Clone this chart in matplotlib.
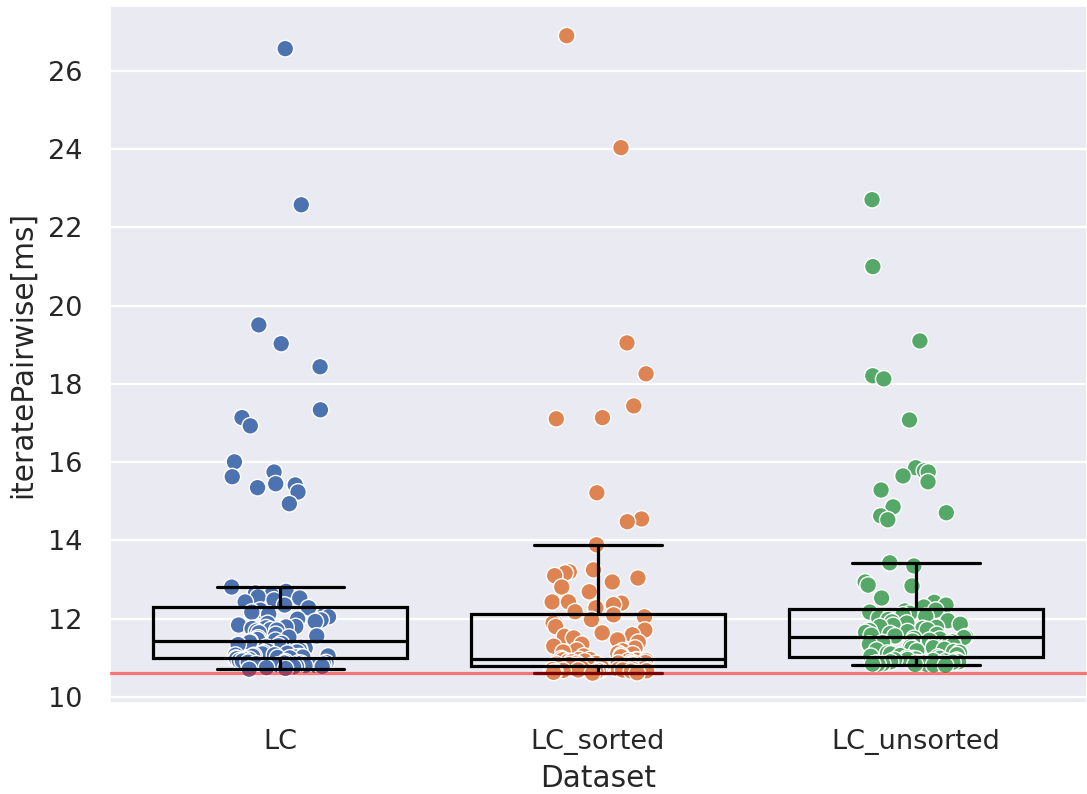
import numpy as np
import pandas as pd
import matplotlib
matplotlib.use("Agg")
import matplotlib.pyplot as plt
import seaborn as sns

# Timing samples (ms) per dataset variant
datasets = ["LC", "LC_sorted", "LC_unsorted"]

lc_times = [
    26.57, 22.58, 19.51, 19.03, 18.44, 17.34, 17.14, 16.93, 16.01, 15.75,
    15.63, 15.45, 15.42, 15.35, 15.24, 14.94,
    12.81, 12.70, 12.66, 12.61, 12.56, 12.53, 12.48, 12.43, 12.35,
    12.28, 12.22, 12.17, 12.12, 12.10, 12.05, 11.99, 11.97, 11.93, 11.88,
    11.84, 11.80, 11.79, 11.77, 11.75, 11.72, 11.71, 11.68, 11.64, 11.60,
    11.56, 11.53, 11.51, 11.47, 11.45,
    11.42, 11.40, 11.37, 11.34, 11.31, 11.28, 11.27, 11.25, 11.22, 11.20,
    11.18, 11.15, 11.13, 11.12, 11.10, 11.08, 11.07, 11.06, 11.05, 11.04,
    11.03, 11.02, 11.02, 11.01, 11.00,
    10.99, 10.98, 10.96, 10.95, 10.93, 10.92, 10.90, 10.89, 10.88, 10.87,
    10.87, 10.86, 10.85, 10.84, 10.83, 10.82, 10.82, 10.81, 10.80, 10.79,
    10.78, 10.77, 10.75, 10.73, 10.71,
]

lc_sorted_times = [
    26.90, 24.04, 19.05, 18.26, 17.44, 17.14, 17.11, 15.22, 14.55, 14.48,
    13.89, 13.25, 13.20, 13.17, 13.10, 13.04, 12.94, 12.81, 12.69, 12.43,
    12.43, 12.40, 12.36, 12.28, 12.18,
    12.10, 12.05, 11.98, 11.92, 11.89, 11.80, 11.71, 11.64, 11.59, 11.55,
    11.51, 11.46, 11.40, 11.35, 11.30, 11.25, 11.20, 11.18, 11.15, 11.12,
    11.10, 11.07, 11.05, 11.03, 10.98,
    10.96, 10.96, 10.95, 10.95, 10.94, 10.93, 10.93, 10.92, 10.91, 10.90,
    10.89, 10.88, 10.87, 10.86, 10.86, 10.85, 10.84, 10.84, 10.83, 10.82,
    10.82, 10.81, 10.80, 10.80, 10.79,
    10.78, 10.77, 10.76, 10.76, 10.75, 10.74, 10.73, 10.73, 10.72, 10.71,
    10.71, 10.70, 10.70, 10.69, 10.69, 10.68, 10.68, 10.67, 10.67, 10.66,
    10.65, 10.64, 10.63, 10.62, 10.61,
]

lc_unsorted_times = [
    22.71, 21.00, 19.10, 18.21, 18.13, 17.08, 15.86, 15.78, 15.75, 15.65,
    15.50, 15.29, 14.86, 14.71, 14.63, 14.53,
    13.43, 13.35, 12.94, 12.86, 12.84, 12.53, 12.42, 12.35, 12.30,
    12.22, 12.20, 12.17, 12.14, 12.10, 12.06, 12.02, 11.98, 11.95, 11.92,
    11.89, 11.86, 11.83, 11.80, 11.78, 11.75, 11.72, 11.70, 11.67, 11.65,
    11.62, 11.60, 11.58, 11.56, 11.54,
    11.52, 11.50, 11.48, 11.45, 11.43, 11.41, 11.39, 11.37, 11.35, 11.32,
    11.30, 11.28, 11.26, 11.24, 11.22, 11.20, 11.18, 11.16, 11.14, 11.12,
    11.10, 11.08, 11.06, 11.04, 11.02,
    11.00, 10.99, 10.98, 10.97, 10.96, 10.95, 10.94, 10.93, 10.92, 10.91,
    10.90, 10.90, 10.89, 10.88, 10.87, 10.87, 10.86, 10.85, 10.85, 10.84,
    10.84, 10.83, 10.83, 10.82, 10.81,
]

baseline_ms = 10.61
y_ticks = [10, 12, 14, 16, 18, 20, 22, 24, 26]

sns.set_theme(style="darkgrid")
plt.rcParams["font.family"] = ["DejaVu Sans"]
plt.rcParams["grid.linewidth"] = 1.6

df = pd.DataFrame({
    "Dataset": np.repeat(datasets, [len(lc_times), len(lc_sorted_times), len(lc_unsorted_times)]),
    "iteratePairwise[ms]": lc_times + lc_sorted_times + lc_unsorted_times,
})

fig = plt.figure(figsize=(10.87, 7.94), dpi=100)
ax = fig.add_axes([110 / 1087, 1 - 703 / 794, 977 / 1087, 697 / 794])

np.random.seed(3)
sns.stripplot(data=df, x="Dataset", y="iteratePairwise[ms]", hue="Dataset",
              palette="deep", order=datasets, hue_order=datasets, jitter=0.16,
              size=12, linewidth=1, edgecolor="white", legend=False,
              ax=ax, zorder=2)

groups = [lc_times, lc_sorted_times, lc_unsorted_times]
line_kw = dict(color="black", linewidth=2.3)
ax.boxplot(groups, positions=range(len(datasets)), widths=0.8, whis=1.5,
           showfliers=False, patch_artist=True, capwidths=0.4,
           boxprops=dict(facecolor="none", edgecolor="black", linewidth=2.3),
           medianprops=line_kw, whiskerprops=line_kw, capprops=line_kw,
           zorder=3)

ax.axhline(baseline_ms, color="red", alpha=0.5, linewidth=2.3, zorder=4)

ax.set_xlim(-0.535, 2.538)
ax.set_ylim(9.847, 27.66)
ax.set_yticks(y_ticks)
ax.set_xticks(range(len(datasets)))
ax.set_xticklabels(datasets)
ax.tick_params(axis="both", labelsize=19.5, colors="#262626", length=0)
ax.tick_params(axis="y", pad=20)
ax.tick_params(axis="x", pad=19)
ax.set_xlabel("Dataset", fontsize=21.3, color="#262626", labelpad=6)
ax.set_ylabel("iteratePairwise[ms]", fontsize=21.3, color="#262626", labelpad=8)

fig.savefig("out.png", dpi=100)
